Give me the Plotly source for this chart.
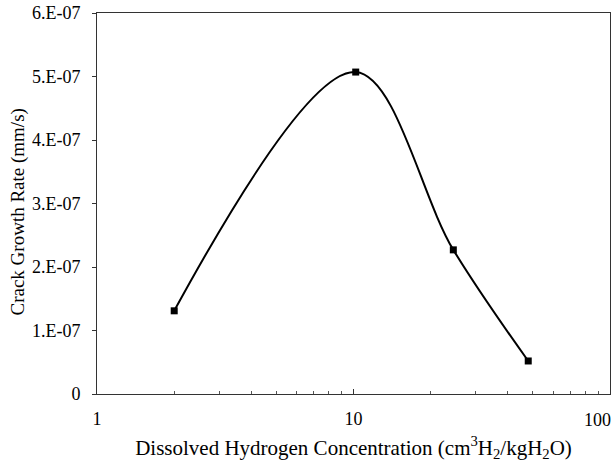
import math
import plotly.graph_objects as go

h2_conc = [2.0, 10.2, 24.5, 48.0]
crack_rate = [1.31e-7, 5.07e-7, 2.27e-7, 0.52e-7]

y_tickvals = [0, 1e-7, 2e-7, 3e-7, 4e-7, 5e-7, 6e-7]
y_ticktext = ["0", "1.E-07", "2.E-07", "3.E-07", "4.E-07", "5.E-07", "6.E-07"]
x_tickvals = [1, 10, 100]
x_ticktext = ["1", "10", "100"]
x_minor_vals = [2, 3, 4, 5, 6, 7, 8, 9, 20, 30, 40, 50, 60, 70, 80, 90]
x_title = "Dissolved Hydrogen Concentration (cm<sup>3</sup>H<sub>2</sub>/kgH<sub>2</sub>O)"
y_title = "Crack Growth Rate (mm/s)"

fig = go.Figure()
fig.add_trace(go.Scatter(
    x=h2_conc, y=crack_rate, mode="lines+markers",
    line=dict(color="black", width=2, shape="spline", smoothing=1.0),
    marker=dict(symbol="square", size=7, color="black"),
    showlegend=False,
))

# last tick label drawn right-aligned at its tick so it stays inside the page
fig.add_annotation(
    x=math.log10(x_tickvals[-1]), xref="x", y=0, yref="paper",
    text=x_ticktext[-1], showarrow=False, xanchor="right", yanchor="top",
    xshift=3, yshift=-14,
    font=dict(family="Liberation Serif", size=18, color="black"),
)
# y-axis title
fig.add_annotation(
    x=0, xref="paper", y=0.5, yref="paper",
    text=y_title, showarrow=False, textangle=-90,
    xanchor="center", yanchor="middle", xshift=-80, yshift=-9,
    font=dict(family="Liberation Serif", size=19, color="black"),
)

fig.update_layout(
    width=614, height=462,
    margin=dict(l=97, r=4, t=13, b=68, autoexpand=False),
    paper_bgcolor="white", plot_bgcolor="white",
    font=dict(family="Liberation Serif", size=18, color="black"),
    xaxis=dict(
        type="log", range=[0, 2], automargin=False,
        tickvals=x_tickvals, ticktext=x_ticktext[:-1] + [""],
        ticks="inside", ticklen=5, tickcolor="#333",
        minor=dict(tickvals=x_minor_vals, ticks="inside", ticklen=3,
                   tickcolor="#555", showgrid=False),
        showgrid=False, zeroline=False,
        showline=True, linecolor="#333", linewidth=1, mirror=True,
        ticklabelstandoff=8,
        title=dict(text=x_title,
                   font=dict(family="Liberation Serif", size=21), standoff=12),
        tickfont=dict(family="Liberation Serif", size=18),
    ),
    yaxis=dict(
        range=[0, 6e-7], automargin=False,
        tickvals=y_tickvals, ticktext=y_ticktext,
        ticks="outside", ticklen=4, tickcolor="#333",
        showgrid=False, zeroline=False,
        showline=True, linecolor="#333", linewidth=1, mirror=True,
        ticklabelstandoff=8,
        tickfont=dict(family="Liberation Serif", size=18),
    ),
)

fig.write_html("out.html", config={"displayModeBar": False},
               post_script="document.body.style.margin='0';")
